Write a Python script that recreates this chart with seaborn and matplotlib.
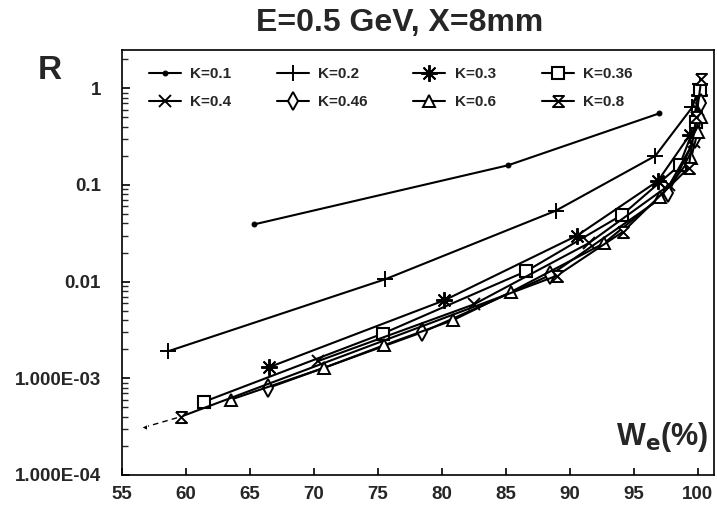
import pandas as pd
import matplotlib.pyplot as plt
import seaborn as sns

# values (W_e in %, R on log scale)
k01_x = [65.3, 85.2, 97.0]
k01_y = [0.039, 0.16, 0.55]
k02_x = [58.6, 75.6, 88.9, 96.7, 99.6, 100.2]
k02_y = [0.0019, 0.0106, 0.054, 0.20, 0.64, 1.1]
k03_x = [66.5, 80.2, 90.6, 96.9, 99.4, 100.1]
k03_y = [0.0013, 0.0064, 0.030, 0.11, 0.33, 0.85]
k036_x = [61.4, 75.4, 86.6, 94.1, 98.6, 99.9, 100.2]
k036_y = [0.00057, 0.0029, 0.0128, 0.049, 0.16, 0.45, 0.95]
k04_x = [70.3, 82.5, 91.5, 97.8, 99.7, 100.0]
k04_y = [0.0015, 0.0058, 0.025, 0.10, 0.28, 0.6]
k046_x = [66.4, 78.5, 88.5, 97.7, 99.8, 100.3]
k046_y = [0.00079, 0.0030, 0.0117, 0.082, 0.3, 0.7]
k06_x = [63.5, 70.8, 75.5, 80.9, 85.4, 92.7, 97.1, 99.5, 100.0, 100.3]
k06_y = [0.00060, 0.00128, 0.0022, 0.0040, 0.0078, 0.025, 0.075, 0.19, 0.35, 0.5]
k08_x = [59.6, 89.0, 94.2, 99.3, 99.9, 100.3]
k08_y = [0.00040, 0.0115, 0.033, 0.15, 0.5, 1.25]
ext_x = [56.7, 59.6]
ext_y = [0.00031, 0.00040]

labels = ["K=0.1", "K=0.2", "K=0.3", "K=0.36", "K=0.4", "K=0.46", "K=0.6", "K=0.8"]
series = [(k01_x, k01_y), (k02_x, k02_y), (k03_x, k03_y), (k036_x, k036_y),
          (k04_x, k04_y), (k046_x, k046_y), (k06_x, k06_y), (k08_x, k08_y)]

hourglass = [(-1, 1), (1, 1), (-1, -1), (1, -1), (-1, 1)]
styles = [
    dict(marker="o", markersize=3.5, markerfacecolor="black"),
    dict(marker="+", markersize=12, markeredgewidth=1.4),
    dict(marker=(8, 2, 0), markersize=12, markeredgewidth=1.4),
    dict(marker="s", markersize=8, markerfacecolor="white", markeredgewidth=1.5),
    dict(marker="x", markersize=9, markeredgewidth=1.4),
    dict(marker="d", markersize=9, markerfacecolor="white", markeredgewidth=1.4),
    dict(marker="^", markersize=9, markerfacecolor="white", markeredgewidth=1.4),
    dict(marker=hourglass, markersize=8, markerfacecolor="white", markeredgewidth=1.4),
]

sns.set_theme(style="white")
plt.rcParams["font.family"] = ["Liberation Sans", "DejaVu Sans"]
plt.rcParams["font.weight"] = "bold"

fig = plt.figure(figsize=(7.17, 5.09), dpi=100)
ax = fig.add_axes([0.170, 0.067, 0.826, 0.835])

for (xs, ys), lab, st in zip(series, labels, styles):
    df = pd.DataFrame({"W": xs, "R": ys})
    sns.lineplot(data=df, x="W", y="R", ax=ax, color="black", linewidth=1.5,
                 markeredgecolor="black", label=lab, **st)

df_ext = pd.DataFrame({"W": ext_x, "R": ext_y})
sns.lineplot(data=df_ext, x="W", y="R", ax=ax, color="black", linewidth=1.0,
             linestyle=(0, (4, 3)), marker="<", markersize=4, markevery=[0])

ax.set_yscale("log")
ax.set_xlim(55, 101.3)
ax.set_ylim(1e-4, 2.5)
ax.set_xticks(range(55, 101, 5))
ax.set_xticklabels([str(v) for v in range(55, 101, 5)], fontsize=13.5, fontweight="bold")
ax.set_yticks([1e-4, 1e-3, 1e-2, 0.1, 1])
ax.set_yticklabels(["1.000E-04", "1.000E-03", "0.01", "0.1", "1"], fontsize=13.5, fontweight="bold")
ax.tick_params(axis="x", which="major", direction="in", length=5, width=1.2, color="black",
               bottom=True, pad=8)
ax.tick_params(axis="y", which="major", direction="in", length=6, width=1.2, color="black",
               left=True, pad=15)
ax.tick_params(axis="y", which="minor", direction="in", length=4, width=1.0, left=True)
ax.set_xlabel("")
ax.set_ylabel("")
for sp in ax.spines.values():
    sp.set_color("black")
    sp.set_linewidth(1.2)

# legend: two rows, four columns, row-major order
h, l = ax.get_legend_handles_labels()
h, l = h[:8], l[:8]
order = [0, 4, 1, 5, 2, 6, 3, 7]
ax.legend([h[i] for i in order], [l[i] for i in order], ncol=4, frameon=False,
          loc="upper left", bbox_to_anchor=(0.045, 0.96), borderaxespad=0, borderpad=0,
          handlelength=2.1, handletextpad=0.6, columnspacing=3.0, labelspacing=0.95,
          prop={"weight": "bold", "size": 11})

fig.text(0.558, 0.955, "E=0.5 GeV, X=8mm", ha="center", va="center", fontsize=23, fontweight="bold")
fig.text(0.07, 0.862, "R", ha="center", va="center", fontsize=24, fontweight="bold")
ax.text(0.912, 0.088, r"W$_\mathbf{e}$(%)", transform=ax.transAxes, ha="center", va="center",
        fontsize=22, fontweight="bold")

fig.savefig("out.png", dpi=100)
